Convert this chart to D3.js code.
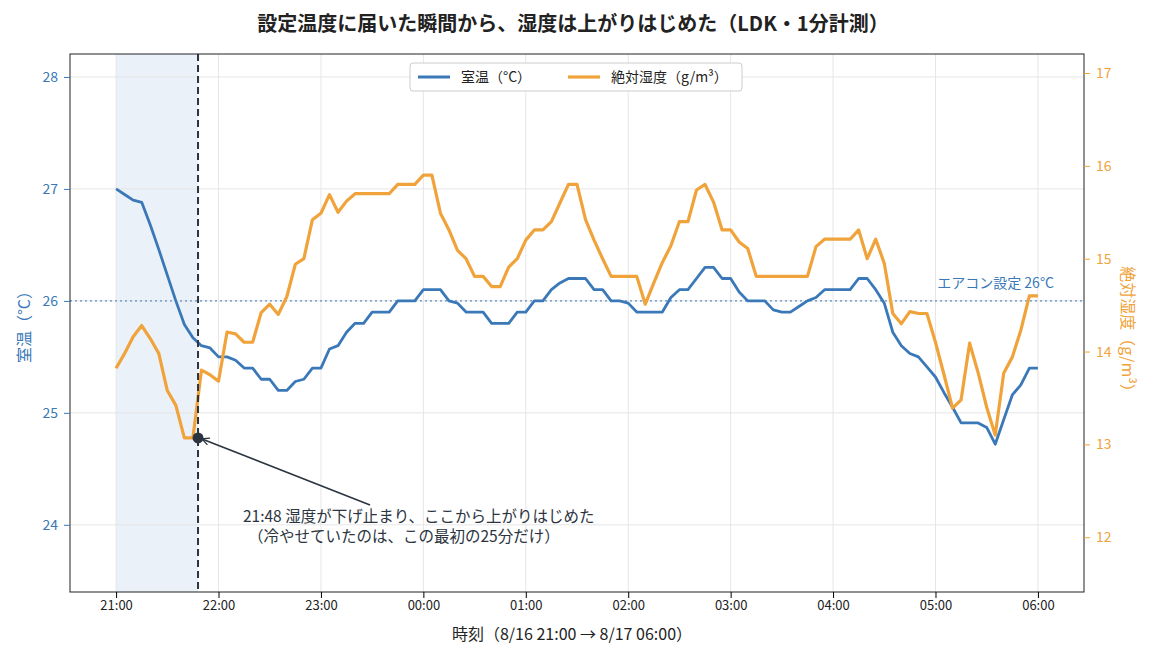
<!DOCTYPE html>
<html><head><meta charset="utf-8">
<script src="https://cdn.jsdelivr.net/npm/d3@7"></script>
<style>body{margin:0;background:#fff;font-family:"Noto Sans CJK JP","Noto Sans",sans-serif;}</style>
</head><body><svg id="c" width="1155" height="660"></svg>
<script>
const minutes = d3.range(0, 545, 5);
const tempC = [27.0,26.95,26.9,26.88,26.68,26.46,26.23,26.0,25.79,25.67,25.6,25.58,25.5,25.5,25.47,25.4,25.4,25.3,25.3,25.2,25.2,25.28,25.3,25.4,25.4,25.57,25.6,25.72,25.8,25.8,25.9,25.9,25.9,26.0,26.0,26.0,26.1,26.1,26.1,26.0,25.98,25.9,25.9,25.9,25.8,25.8,25.8,25.9,25.9,26.0,26.0,26.1,26.16,26.2,26.2,26.2,26.1,26.1,26.0,26.0,25.98,25.9,25.9,25.9,25.9,26.03,26.1,26.1,26.2,26.3,26.3,26.2,26.2,26.08,26.0,26.0,26.0,25.92,25.9,25.9,25.95,26.0,26.03,26.1,26.1,26.1,26.1,26.2,26.2,26.1,25.98,25.72,25.6,25.53,25.5,25.41,25.32,25.18,25.05,24.91,24.91,24.91,24.87,24.72,24.94,25.16,25.25,25.4,25.4];
const absHum = [13.82,13.98,14.16,14.28,14.14,13.98,13.58,13.42,13.07,13.07,13.8,13.75,13.68,14.21,14.19,14.1,14.1,14.42,14.51,14.4,14.59,14.94,15.0,15.42,15.49,15.69,15.5,15.62,15.7,15.7,15.7,15.7,15.7,15.8,15.8,15.8,15.9,15.9,15.49,15.31,15.09,15.0,14.81,14.81,14.7,14.7,14.91,15.0,15.2,15.31,15.31,15.4,15.6,15.8,15.8,15.42,15.2,15.0,14.81,14.81,14.81,14.81,14.51,14.74,14.96,15.14,15.4,15.4,15.74,15.8,15.61,15.31,15.31,15.18,15.11,14.81,14.81,14.81,14.81,14.81,14.81,14.81,15.13,15.21,15.21,15.21,15.21,15.31,15.0,15.21,14.95,14.41,14.3,14.43,14.41,14.41,14.1,13.75,13.39,13.48,14.09,13.77,13.4,13.1,13.77,13.94,14.23,14.6,14.6];
const xTickMin = [0,60,120,180,240,300,360,420,480,540];
const xTickLabels = ["21:00","22:00","23:00","00:00","01:00","02:00","03:00","04:00","05:00","06:00"];
const tTicks = [24,25,26,27,28];
const hTicks = [12,13,14,15,16,17];
const setpoint = 26;
const turnMin = 48;
const turnHum = 13.07;

const svg = d3.select("#c");
const L=70,R=1084,T=54,B=592;
const x = d3.scaleLinear().domain([-27,567]).range([L,R]);
const yT = d3.scaleLinear().domain([23.4,28.205]).range([B,T]);
const yH = d3.scaleLinear().domain([11.41,17.205]).range([B,T]);
const blue="#3a78b8", orange="#f0a33a", dark="#2b3440";
const F="Noto Sans CJK JP";

svg.append("rect").attr("x",x(0)).attr("y",T).attr("width",x(turnMin)-x(0)).attr("height",B-T).attr("fill","#eaf0f8").attr("opacity",0.95);
const g=svg.append("g");
xTickMin.forEach(m=>g.append("line").attr("x1",x(m)).attr("x2",x(m)).attr("y1",T).attr("y2",B).attr("stroke","#e6e6e6"));
tTicks.forEach(t=>g.append("line").attr("x1",L).attr("x2",R).attr("y1",yT(t)).attr("y2",yT(t)).attr("stroke","#e6e6e6"));
svg.append("line").attr("x1",L).attr("x2",R).attr("y1",yT(setpoint)).attr("y2",yT(setpoint)).attr("stroke",blue).attr("stroke-width",1.3).attr("stroke-dasharray","2,3").attr("opacity",0.8);
svg.append("text").attr("x",1054).attr("y",288).attr("text-anchor","end").attr("font-size",14).attr("fill",blue).text("エアコン設定 26°C");

const lineT=d3.line().x((d,i)=>x(minutes[i])).y(d=>yT(d));
const lineH=d3.line().x((d,i)=>x(minutes[i])).y(d=>yH(d));
svg.append("path").attr("d",lineT(tempC)).attr("fill","none").attr("stroke",blue).attr("stroke-width",2.8).attr("stroke-linejoin","round");
svg.append("path").attr("d",lineH(absHum)).attr("fill","none").attr("stroke",orange).attr("stroke-width",3.2).attr("stroke-linejoin","round");
svg.append("line").attr("x1",x(turnMin)).attr("x2",x(turnMin)).attr("y1",T).attr("y2",B).attr("stroke",dark).attr("stroke-width",2).attr("stroke-dasharray","7,4");

svg.append("circle").attr("cx",x(turnMin)).attr("cy",yH(turnHum)).attr("r",5.5).attr("fill",dark);
svg.append("defs").append("marker").attr("id","ar").attr("viewBox","0 0 10 10").attr("refX",9).attr("refY",5).attr("markerWidth",9).attr("markerHeight",9).attr("markerUnits","userSpaceOnUse").attr("orient","auto")
  .append("path").attr("d","M1,1 L9,5 L1,9").attr("fill","none").attr("stroke",dark).attr("stroke-width",1.5);
svg.append("line").attr("x1",370).attr("y1",505).attr("x2",x(turnMin)+4).attr("y2",yH(turnHum)+1).attr("stroke",dark).attr("stroke-width",1.6).attr("marker-end","url(#ar)");
svg.append("text").attr("x",243).attr("y",522).attr("font-size",15.5).attr("fill",dark).text("21:48  湿度が下げ止まり、ここから上がりはじめた");
svg.append("text").attr("x",248).attr("y",542).attr("font-size",15.5).attr("fill",dark).text("（冷やせていたのは、この最初の25分だけ）");

svg.append("rect").attr("x",L).attr("y",T).attr("width",R-L).attr("height",B-T).attr("fill","none").attr("stroke","#222").attr("stroke-width",1);
const ax=svg.append("g").attr("transform",`translate(0,${B})`).call(d3.axisBottom(x).tickValues(xTickMin).tickFormat((d,i)=>xTickLabels[i]).tickSizeOuter(0));
ax.select(".domain").remove(); ax.selectAll("text").attr("font-size",13).attr("fill","#222").attr("font-family",F);
const al=svg.append("g").attr("transform",`translate(${L},0)`).call(d3.axisLeft(yT).tickValues(tTicks).tickFormat(d3.format("d")).tickSizeOuter(0));
al.select(".domain").remove(); al.selectAll("line").attr("stroke",blue); al.selectAll("text").attr("font-size",14).attr("fill",blue).attr("font-family",F).attr("x",-12);
const ar=svg.append("g").attr("transform",`translate(${R},0)`).call(d3.axisRight(yH).tickValues(hTicks).tickFormat(d3.format("d")).tickSizeOuter(0));
ar.select(".domain").remove(); ar.selectAll("line").attr("stroke",orange); ar.selectAll("text").attr("font-size",14).attr("fill",orange).attr("font-family",F).attr("x",12);

svg.append("text").attr("x",573).attr("y",31).attr("text-anchor","middle").attr("font-size",20).attr("font-weight","bold").attr("fill","#222").text("設定温度に届いた瞬間から、湿度は上がりはじめた（LDK・1分計測）");
svg.append("text").attr("x",572).attr("y",640).attr("text-anchor","middle").attr("font-size",16).attr("fill","#222").text("時刻（8/16 21:00 → 8/17 06:00）");
svg.append("text").attr("transform",`translate(30,${(T+B)/2}) rotate(-90)`).attr("text-anchor","middle").attr("font-size",16).attr("fill",blue).text("室温（°C）");
svg.append("text").attr("transform",`translate(1122,${(T+B)/2+10}) rotate(90)`).attr("text-anchor","middle").attr("font-size",16).attr("fill",orange).text("絶対湿度（g/m³）");

const lg=svg.append("g");
lg.append("rect").attr("x",410).attr("y",63).attr("width",332).attr("height",28).attr("rx",3).attr("fill","#fff").attr("stroke","#ccc");
lg.append("line").attr("x1",418).attr("x2",450).attr("y1",77).attr("y2",77).attr("stroke",blue).attr("stroke-width",3);
lg.append("text").attr("x",461).attr("y",82).attr("font-size",14).attr("fill","#222").text("室温（°C）");
lg.append("line").attr("x1",568).attr("x2",600).attr("y1",77).attr("y2",77).attr("stroke",orange).attr("stroke-width",3.2);
lg.append("text").attr("x",611).attr("y",82).attr("font-size",14).attr("fill","#222").text("絶対湿度（g/m³）");
</script></body></html>
